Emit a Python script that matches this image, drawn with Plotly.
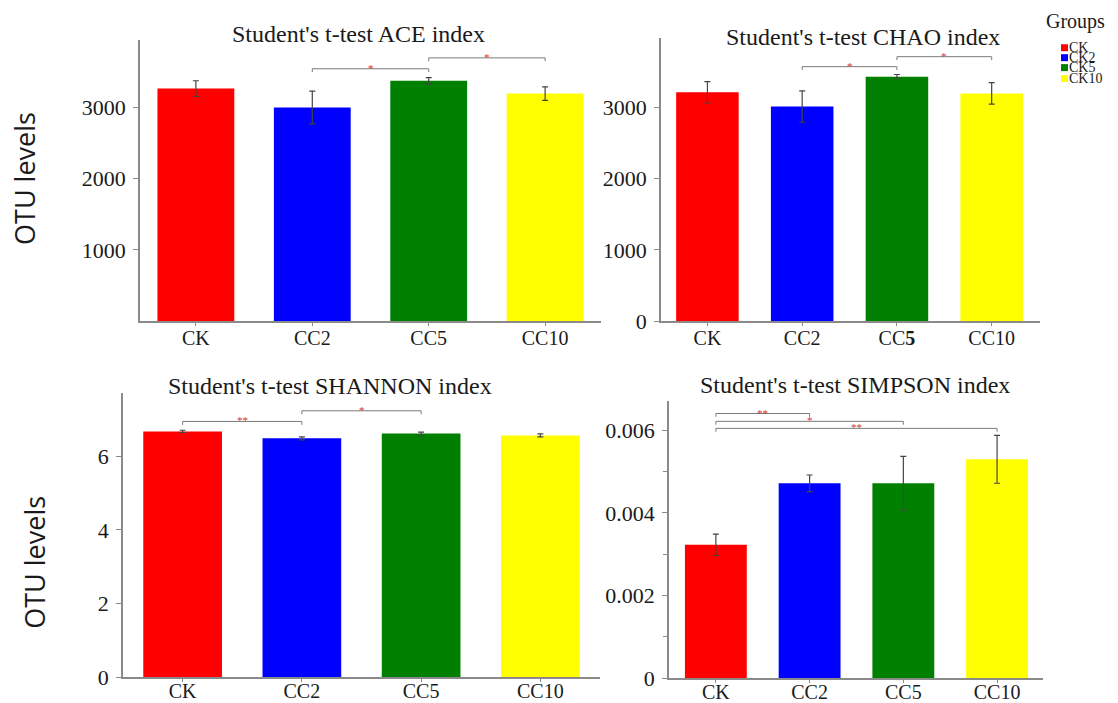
import plotly.graph_objects as go

# ---------------- data ----------------
categories = ["CK", "CC2", "CC5", "CC10"]
bar_colors = ["#FF0000", "#0000FF", "#008000", "#FFFF00"]
legend_labels = ["CK", "CK2", "CK5", "CK10"]

ace_mean = [3265, 3000, 3375, 3195]
ace_err = [110, 230, 45, 95]
ace_sig_from = [1, 2]
ace_sig_to = [2, 3]
ace_sig_height = [3543, 3696]
ace_sig_label = ["*", "*"]

chao_mean = [3210, 3010, 3430, 3195]
chao_err = [150, 220, 30, 150]
chao_sig_from = [1, 2]
chao_sig_to = [2, 3]
chao_sig_height = [3570, 3710]
chao_sig_label = ["*", "*"]

shannon_mean = [6.68, 6.49, 6.62, 6.57]
shannon_err = [0.03, 0.04, 0.04, 0.04]
shannon_sig_from = [0, 1]
shannon_sig_to = [1, 2]
shannon_sig_height = [6.95, 7.24]
shannon_sig_label = ["**", "*"]

simpson_mean = [0.00323, 0.00472, 0.00472, 0.00530]
simpson_err = [0.00026, 0.00020, 0.00065, 0.00058]
simpson_sig_from = [0, 0, 0]
simpson_sig_to = [1, 2, 3]
simpson_sig_height = [0.00641, 0.00622, 0.00605]
simpson_sig_label = ["**", "*", "**"]

titles = ["Student's t-test ACE index", "Student's t-test CHAO index",
          "Student's t-test SHANNON index", "Student's t-test SIMPSON index"]
y_title = "OTU levels"

# ---------------- layout helpers ----------------
REF_W, REF_H = 1118, 703      # reference picture size (positions below are in its pixels)
W, H = 1118, 712              # figure size (the captured page is slightly taller than the window)


def px_x(p):
    return p / REF_W


def px_y(p):
    return 1 - p / REF_H


panels = [
    dict(mean=ace_mean, err=ace_err, sf=ace_sig_from, st=ace_sig_to, sh=ace_sig_height, sl=ace_sig_label,
         xd=(140, 601), yd=(40, 323), xr=(-0.48, 3.48), yr=(0, 3950),
         tickvals=[1000, 2000, 3000], ticktext=["1000", "2000", "3000"], minor=None,
         xticktext=categories, title_pos=(358, 34), xstand=-5),
    dict(mean=chao_mean, err=chao_err, sf=chao_sig_from, st=chao_sig_to, sh=chao_sig_height, sl=chao_sig_label,
         xd=(661, 1040), yd=(38, 323), xr=(-0.49, 3.51), yr=(0, 3975),
         tickvals=[0, 1000, 2000, 3000], ticktext=["0", "1000", "2000", "3000"], minor=None,
         xticktext=["CK", "CC2", "CC<b>5</b>", "CC10"], title_pos=(863, 37), xstand=-5),
    dict(mean=shannon_mean, err=shannon_err, sf=shannon_sig_from, st=shannon_sig_to, sh=shannon_sig_height,
         sl=shannon_sig_label,
         xd=(123, 600), yd=(395, 681), xr=(-0.5, 3.5), yr=(0, 7.73),
         tickvals=[0, 2, 4, 6], ticktext=["0", "2", "4", "6"], minor=None,
         xticktext=categories, title_pos=(330, 388), xstand=-8),
    dict(mean=simpson_mean, err=simpson_err, sf=simpson_sig_from, st=simpson_sig_to, sh=simpson_sig_height,
         sl=simpson_sig_label,
         xd=(669, 1043), yd=(403, 682), xr=(-0.5, 3.49), yr=(0, 0.00672),
         tickvals=[0, 0.002, 0.004, 0.006], ticktext=["0", "0.002", "0.004", "0.006"],
         minor=[0.001, 0.003, 0.005],
         xticktext=categories, title_pos=(855, 387), xstand=-8),
]

AXIS_COLOR = "#8a8a8a"
TEXT_COLOR = "#1a1a1a"
SERIF = "Liberation Serif"

fig = go.Figure()
shapes = []
annotations = []
layout_axes = {}

for i, p in enumerate(panels):
    n = "" if i == 0 else str(i + 1)
    xa, ya = "x" + n, "y" + n
    fig.add_trace(go.Bar(
        x=list(range(len(categories))), y=p["mean"],
        marker=dict(color=bar_colors, line=dict(width=0)),
        width=0.66,
        error_y=dict(type="data", array=p["err"], visible=True, color="#444444", thickness=1.2, width=3),
        xaxis=xa, yaxis=ya, showlegend=False, hoverinfo="x+y",
    ))
    xaxis = dict(
        domain=[px_x(p["xd"][0]), px_x(p["xd"][1])], anchor=ya, range=list(p["xr"]),
        tickvals=list(range(len(categories))), ticktext=p["xticktext"],
        showline=True, linecolor=AXIS_COLOR, linewidth=1.5, ticks="outside", ticklen=3,
        tickcolor=AXIS_COLOR, showgrid=False, zeroline=False, ticklabelstandoff=p["xstand"],
        tickfont=dict(family=SERIF, size=20, color=TEXT_COLOR), fixedrange=True,
    )
    yaxis = dict(
        domain=[px_y(p["yd"][1]), px_y(p["yd"][0])], anchor=xa, range=list(p["yr"]),
        tickvals=p["tickvals"], ticktext=p["ticktext"],
        showline=True, linecolor=AXIS_COLOR, linewidth=1.5, ticks="outside", ticklen=5,
        tickcolor=AXIS_COLOR, showgrid=False, zeroline=False, ticklabelstandoff=3,
        tickfont=dict(family=SERIF, size=22, color=TEXT_COLOR), fixedrange=True,
    )
    if p["minor"]:
        yaxis["minor"] = dict(tickvals=p["minor"], ticks="outside", ticklen=4, tickcolor=AXIS_COLOR,
                              showgrid=False)
    layout_axes["xaxis" + n] = xaxis
    layout_axes["yaxis" + n] = yaxis

    # significance brackets
    drop = (p["yr"][1] - p["yr"][0]) * 0.012
    for a, b, h, lab in zip(p["sf"], p["st"], p["sh"], p["sl"]):
        shapes.append(dict(
            type="path", xref=xa, yref=ya,
            path=f"M {a} {h - drop} L {a} {h} L {b} {h} L {b} {h - drop}",
            line=dict(color="#7a7a7a", width=1),
        ))
        annotations.append(dict(
            x=(a + b) / 2, y=h, xref=xa, yref=ya, text=lab, showarrow=False,
            font=dict(family=SERIF, size=11, color="#e03030"), yanchor="middle", yshift=1,
        ))

    # panel title
    annotations.append(dict(
        x=px_x(p["title_pos"][0]), y=px_y(p["title_pos"][1]), xref="paper", yref="paper",
        text=titles[i], showarrow=False, xanchor="center", yanchor="middle",
        font=dict(family=SERIF, size=24, color=TEXT_COLOR),
    ))

# y axis titles
for (cx, cy) in [(25, 180), (35, 566)]:
    annotations.append(dict(
        x=px_x(cx), y=px_y(cy), xref="paper", yref="paper", text=y_title, showarrow=False,
        textangle=-90, xanchor="center", yanchor="middle",
        font=dict(family="Open Sans", size=27, color=TEXT_COLOR),
    ))

# custom compact legend
annotations.append(dict(
    x=px_x(1075), y=px_y(22), xref="paper", yref="paper", text="Groups", showarrow=False,
    xanchor="center", yanchor="middle", font=dict(family=SERIF, size=20, color=TEXT_COLOR),
))
legend_y = [48, 58, 68, 79]
for lab, col, ly in zip(legend_labels, bar_colors, legend_y):
    shapes.append(dict(
        type="rect", xref="paper", yref="paper",
        x0=px_x(1061), x1=px_x(1068), y0=px_y(ly + 3.5), y1=px_y(ly - 3.5),
        fillcolor=col, line=dict(width=0),
    ))
    annotations.append(dict(
        x=px_x(1067), y=px_y(ly), xref="paper", yref="paper", text=lab, showarrow=False,
        xanchor="left", yanchor="middle", font=dict(family=SERIF, size=14, color=TEXT_COLOR),
    ))

fig.update_layout(
    width=W, height=H, autosize=False,
    margin=dict(l=0, r=0, t=0, b=0),
    paper_bgcolor="white", plot_bgcolor="white",
    shapes=shapes, annotations=annotations,
    showlegend=False,
    **layout_axes,
)

fig.write_html("out.html", config=dict(displayModeBar=False),
               post_script="document.body.style.margin='0px';")
